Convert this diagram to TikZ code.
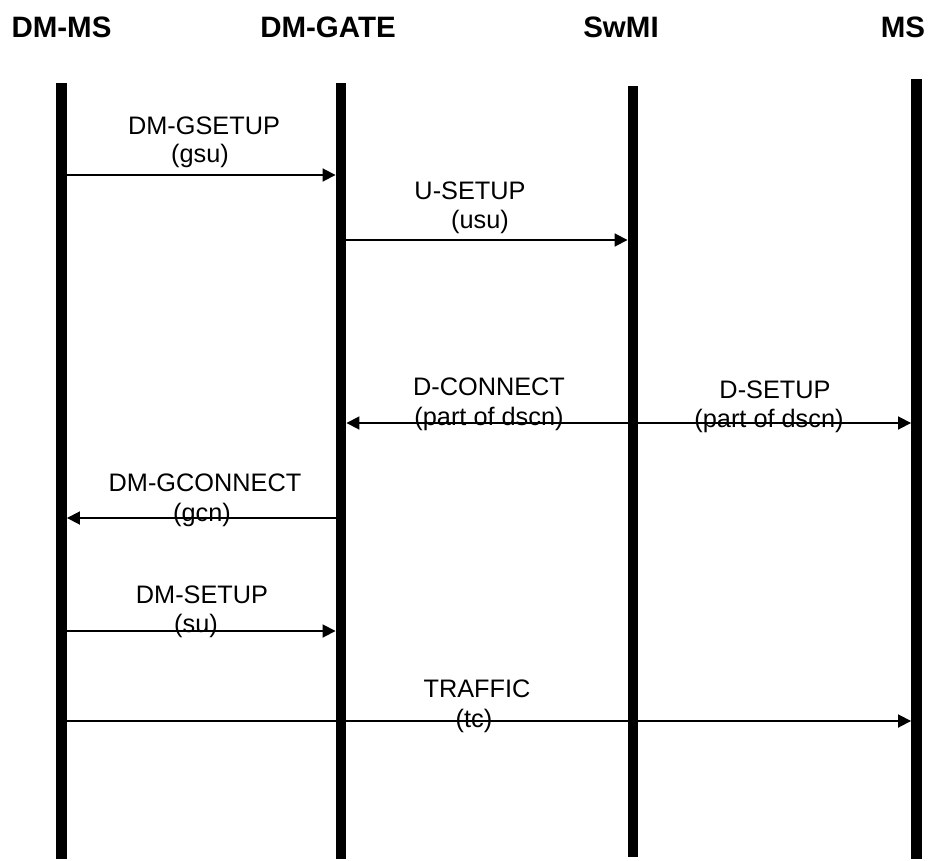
\documentclass[tikz,border=0pt]{standalone}
\usepackage{fontspec}
\setmainfont{Liberation Sans}
\usepackage{tikz}
\usetikzlibrary{arrows.meta}

\begin{document}
\begin{tikzpicture}[x=1pt,y=-1pt]
		\useasboundingbox (0,0) rectangle (928,861);
		\tikzstyle{head}=[anchor=base,inner sep=0pt,font=\fontsize{29.5}{34}\selectfont\bfseries]
		\tikzstyle{lifeline}=[rectangle,fill=black,minimum width=10.5pt,inner sep=0pt]
		\tikzstyle{msg}=[line width=1.8pt,-{Triangle[length=13pt,width=13pt]}]
		\tikzstyle{lbl}=[anchor=base,inner sep=0pt,font=\fontsize{25.3}{29}\selectfont]
		% entities
		\node[head] (h_dmms) at (61.5,38) {DM-MS};
		\node[head] (h_gate) at (328,38) {DM-GATE};
		\node[head] (h_swmi) at (621,38) {SwMI};
		\node[head] (h_ms) at (903,38) {MS};
		\node[lifeline,minimum height=776pt] (dmms) at (61.5,471) {};
		\node[lifeline,minimum height=776pt] (gate) at (341,471) {};
		\node[lifeline,minimum height=771pt] (swmi) at (633,471.5) {};
		\node[lifeline,minimum height=780pt] (ms) at (916.5,469) {};
		% message levels
		\coordinate (m_gsu) at (0,175);
		\coordinate (m_usu) at (0,240);
		\coordinate (m_dscn) at (0,423);
		\coordinate (m_gcn) at (0,518);
		\coordinate (m_su) at (0,631);
		\coordinate (m_tc) at (0,721);
		% messages
		\draw[msg] (dmms.east |- m_gsu) -- (gate.west |- m_gsu);
		\node[lbl] (l_gsu) at (204,135) {DM-GSETUP};
		\node[lbl] (p_gsu) at (200,163) {(gsu)};
		\draw[msg] (gate.east |- m_usu) -- (swmi.west |- m_usu);
		\node[lbl] (l_usu) at (470,200) {U-SETUP};
		\node[lbl] (p_usu) at (480,228) {(usu)};
		\draw[msg] (swmi.west |- m_dscn) -- (gate.east |- m_dscn);
		\node[lbl] (l_dcn) at (489,395) {D-CONNECT};
		\node[lbl] (p_dcn) at (489,425) {(part of dscn)};
		\draw[msg] (swmi.east |- m_dscn) -- (ms.west |- m_dscn);
		\node[lbl] (l_dsu) at (775,398) {D-SETUP};
		\node[lbl] (p_dsu) at (769,427) {(part of dscn)};
		\draw[msg] (gate.west |- m_gcn) -- (dmms.east |- m_gcn);
		\node[lbl] (l_gcn) at (205,491) {DM-GCONNECT};
		\node[lbl] (p_gcn) at (202,521) {(gcn)};
		\draw[msg] (dmms.east |- m_su) -- (gate.west |- m_su);
		\node[lbl] (l_su) at (202,603) {DM-SETUP};
		\node[lbl] (p_su) at (196,632) {(su)};
		\draw[msg] (dmms.east |- m_tc) -- (ms.west |- m_tc);
		\node[lbl] (l_tc) at (477,697) {TRAFFIC};
		\node[lbl] (p_tc) at (474,727) {(tc)};
	\end{tikzpicture}
\end{document}
